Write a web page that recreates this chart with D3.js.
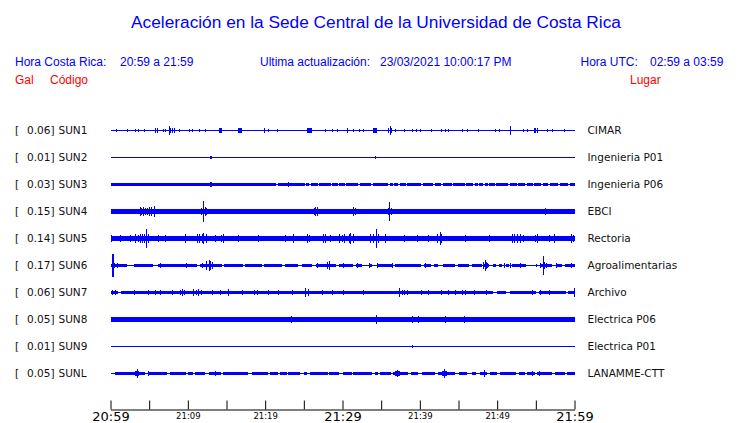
<!DOCTYPE html>
<html>
<head>
<meta charset="utf-8">
<script src="https://cdn.jsdelivr.net/npm/d3@7"></script>
<style>
  html, body { margin: 0; padding: 0; background: #ffffff; }
  svg { display: block; }
</style>
</head>
<body>
<svg id="chart" width="740" height="423"></svg>
<script>
// ---------------- DATA ----------------
const stations = ["SUN1","SUN2","SUN3","SUN4","SUN5","SUN6","SUN7","SUN8","SUN9","SUNL"];
const places = ["CIMAR","Ingenieria P01","Ingenieria P06","EBCI","Rectoria","Agroalimentarias","Archivo","Electrica P06","Electrica P01","LANAMME-CTT"];
const galScale = [0.06,0.01,0.03,0.15,0.14,0.17,0.06,0.05,0.01,0.05];
// half-amplitude of the continuous noise band (fraction of row half-height)
const bandLevel = [0,0,0.11,0.16,0.19,0.13,0.13,0.15,0,0.12];

// quiet intervals (minutes after 20:59) where only the thin trace shows
const gapsSUN3 = [[21.4,21.6],[25.1,25.3],[25.7,25.9],[26.8,27.0],[28.5,28.7],[29.4,29.6],[30.3,30.5],[32.0,32.2],[33.7,33.9],[35.9,36.1],[36.5,36.7],[37.2,37.4],[38.2,38.4],[40.2,40.4],[41.7,41.9],[42.8,43.0],[44.1,44.3],[45.8,46.0],[46.9,47.1],[47.5,47.7],[48.2,48.4],[48.8,49.0],[49.7,49.9],[51.4,51.6],[52.5,52.7],[53.6,53.8],[54.6,54.8],[55.7,55.9],[56.6,56.8],[57.9,58.1],[59.2,59.4]];
const gapsSUN6 = [[2.1,3.1],[5.5,6.1],[11.2,11.6],[14.4,14.7],[17.1,17.4],[19.6,19.9],[22.2,22.5],[24.3,24.8],[26.0,26.6],[29.1,29.5],[31.4,31.7],[32.5,33.4],[33.8,34.5],[36.4,36.8],[40.1,40.5],[41.4,41.8],[42.4,43.0],[44.6,44.9],[46.3,46.7],[48.0,48.3],[48.9,49.4],[49.8,50.2],[50.6,51.1],[51.5,51.9],[53.7,55.0],[55.2,55.6],[57.1,57.6],[58.4,58.8]];
const gapsSUN7 = [[1.0,1.4],[49.4,50.0],[51.1,51.6],[55.0,55.4],[58.9,59.2]];
const gapsSUNL = [[0,0.6],[4.5,4.9],[7.3,7.7],[9.8,10.0],[10.7,10.9],[12.2,12.7],[14.3,14.5],[17.8,18.3],[20.4,20.6],[21.7,21.9],[22.8,23.0],[24.5,25.0],[25.4,25.8],[28.1,28.3],[29.5,30.1],[31.2,31.4],[33.8,34.2],[34.6,34.8],[36.3,36.5],[38.5,38.9],[39.8,40.3],[42.0,42.4],[44.6,45.0],[46.1,46.7],[47.2,47.8],[48.7,49.1],[50.0,50.4],[52.4,52.8],[53.6,53.8],[54.9,55.1],[57.1,57.5],[58.8,59.0]];

// bursts: [minute after 20:59, half-amplitude, duration in minutes (optional)]
const burstsSUN1 = [[0.7,0.11],[2.1,0.11],[3.2,0.11],[3.6,0.11],[4.3,0.11],[5.8,0.15],[6.0,0.15],[6.8,0.11],[7.1,0.11],[7.5,0.30],[7.7,0.19],[8.0,0.15],[8.2,0.19],[8.9,0.11],[10.1,0.11,0.2],[10.6,0.11],[11.4,0.11],[12.2,0.11],[14.0,0.15,0.4],[16.5,0.15,0.5],[19.8,0.15,0.2],[20.4,0.11],[21.5,0.11],[22.8,0.07],[23.5,0.07],[24.1,0.07],[24.4,0.07],[25.4,0.15,0.6],[27.8,0.11],[28.6,0.11],[29.3,0.11],[30.6,0.15],[31.4,0.11],[32.1,0.11],[32.7,0.11],[34.0,0.15,0.5],[35.9,0.15],[36.1,0.37],[36.3,0.15],[36.8,0.11],[37.9,0.11],[39.0,0.11],[39.5,0.11],[40.0,0.11],[41.4,0.11],[42.7,0.11],[43.2,0.11],[43.7,0.11],[45.5,0.11],[46.1,0.11],[47.5,0.11],[49.7,0.11],[50.3,0.11],[51.6,0.30],[53.4,0.11],[53.9,0.11],[54.7,0.15],[54.9,0.19],[55.1,0.15],[56.5,0.11],[57.1,0.11],[58.6,0.11]];
const burstsSUN2 = [[12.9,0.11,0.2],[34.2,0.09]];
const burstsSUN3 = [[12.9,0.19,0.2],[23.0,0.15]];
const burstsSUN4 = [[0.8,0.22],[3.8,0.30],[4.0,0.26],[4.2,0.33],[4.4,0.26],[4.7,0.26],[5.0,0.37],[5.3,0.30],[5.6,0.41],[7.3,0.11],[9.1,0.11],[10.1,0.19],[11.7,0.26],[11.9,0.33],[12.0,0.79],[12.2,0.30],[12.4,0.26],[12.6,0.22],[15.2,0.15],[16.8,0.11],[18.0,0.19],[18.2,0.19],[18.8,0.19],[20.9,0.15],[21.1,0.15],[21.7,0.15],[21.9,0.15],[22.2,0.15],[23.0,0.22],[24.7,0.15],[26.3,0.26],[26.5,0.33],[26.7,0.30],[26.9,0.22],[28.2,0.19],[28.5,0.19],[28.8,0.19],[31.4,0.33],[31.6,0.26],[32.5,0.15],[33.0,0.15],[33.4,0.15],[34.2,0.15],[34.7,0.15],[35.7,0.22],[35.9,0.26],[36.05,0.71],[36.3,0.26],[36.6,0.22],[37.0,0.19],[40.1,0.19],[42.0,0.19],[43.2,0.22],[45.2,0.15],[45.6,0.15],[47.1,0.22],[47.8,0.19],[49.1,0.19],[52.3,0.11],[55.6,0.22],[56.2,0.26],[56.7,0.15]];
const burstsSUN5 = [[0.1,0.26],[0.3,0.22],[1.2,0.26],[2.5,0.26],[3.2,0.30],[3.5,0.26],[3.8,0.33],[4.1,0.30],[4.3,0.37],[4.55,0.70],[4.9,0.37],[6.2,0.26],[6.6,0.22],[7.0,0.26],[9.6,0.30],[11.2,0.30],[11.5,0.33],[11.8,0.37],[12.0,0.41],[12.3,0.30],[13.5,0.26],[13.9,0.22],[14.3,0.26],[14.5,0.30],[16.5,0.26],[19.1,0.26],[22.6,0.26],[23.6,0.30],[25.4,0.30],[25.7,0.26],[27.5,0.37],[27.8,0.33],[28.4,0.26],[28.7,0.22],[29.5,0.30],[29.9,0.26],[30.2,0.30],[30.8,0.37],[31.0,0.41],[31.3,0.33],[33.6,0.37],[33.9,0.33],[34.3,0.74],[34.6,0.30],[35.5,0.30],[37.9,0.26],[39.6,0.26],[41.1,0.26],[42.2,0.37],[42.6,0.50],[42.8,0.33],[45.9,0.26],[48.9,0.26],[51.9,0.30],[52.2,0.33],[52.6,0.37],[52.9,0.30],[53.3,0.26],[54.9,0.26],[55.2,0.30],[56.7,0.26],[57.3,0.37],[59.5,0.30],[59.8,0.26]];
const burstsSUN6 = [[0.2,0.87,0.25],[0.5,0.19],[0.9,0.15],[6.4,0.19],[9.7,0.19],[11.8,0.19],[12.4,0.30],[12.7,0.44],[12.9,0.33],[13.1,0.26],[26.7,0.19],[28.0,0.26],[28.2,0.33],[30.0,0.19],[31.9,0.19],[33.4,0.19],[34.5,0.19],[36.4,0.19],[40.7,0.19],[48.2,0.26],[48.4,0.44],[48.6,0.26],[48.7,0.19],[50.9,0.19],[51.7,0.19],[53.0,0.19],[55.6,0.19],[55.9,0.67],[56.1,0.26],[56.3,0.19],[57.6,0.19],[59.5,0.19]];
const burstsSUN7 = [[0.15,0.22],[0.6,0.22],[3.0,0.22],[4.9,0.22],[5.8,0.22],[6.4,0.22],[7.9,0.22],[9.0,0.22],[9.2,0.26],[9.5,0.22],[10.7,0.26],[11.0,0.22],[11.3,0.26],[11.7,0.22],[13.1,0.22],[14.2,0.22],[15.2,0.26],[17.0,0.22],[18.5,0.22],[18.9,0.22],[20.4,0.22],[21.7,0.22],[23.5,0.22],[25.2,0.30],[25.5,0.26],[27.3,0.22],[28.6,0.22],[30.1,0.22],[32.7,0.22],[37.3,0.37],[37.7,0.22],[38.0,0.22],[38.4,0.22],[40.1,0.22],[41.1,0.22],[42.7,0.22],[43.7,0.22],[44.6,0.22],[45.5,0.22],[45.8,0.22],[47.0,0.22],[48.5,0.22],[54.5,0.22],[55.6,0.22],[56.7,0.22],[59.9,0.30]];
const burstsSUN8 = [[0.1,0.19],[3.2,0.19],[5.3,0.22],[7.9,0.19],[9.1,0.19],[10.3,0.19],[10.9,0.19],[12.4,0.19],[20.9,0.19],[22.2,0.22],[22.6,0.19],[23.0,0.22],[23.3,0.26],[23.7,0.19],[24.0,0.22],[25.2,0.19],[26.7,0.19],[27.8,0.19],[29.7,0.19],[31.2,0.19],[34.3,0.30],[39.0,0.26],[39.4,0.22],[39.8,0.26],[40.2,0.22],[41.4,0.19],[43.3,0.26],[43.6,0.22],[45.7,0.26],[46.1,0.22],[47.2,0.19],[49.3,0.22],[52.6,0.19],[55.8,0.19],[59.9,0.19]];
const burstsSUN9 = [[12.9,0.07],[13.7,0.07],[23.2,0.07],[23.8,0.07],[34.2,0.07],[39.0,0.09]];
const burstsSUNL = [[3.2,0.15,0.5],[3.4,0.30],[4.9,0.15],[13.5,0.15],[13.8,0.11,0.4],[36.8,0.15,0.6],[37.0,0.26],[42.9,0.19,0.6],[43.1,0.30],[48.3,0.26],[54.5,0.15],[55.4,0.15]];

const gapsByStation = [[],[],gapsSUN3,[],[],gapsSUN6,gapsSUN7,[],[],gapsSUNL];
const burstsByStation = [burstsSUN1,burstsSUN2,burstsSUN3,burstsSUN4,burstsSUN5,burstsSUN6,burstsSUN7,burstsSUN8,burstsSUN9,burstsSUNL];

const startTime = new Date(2021, 2, 23, 20, 59, 0);
const endTime = new Date(2021, 2, 23, 21, 59, 0);
const tickStepMinutes = 5;
const labelStepMinutes = 10;
const majorLabelMinutes = [0, 30, 60];

// ---------------- DRAWING ----------------
const svg = d3.select("#chart");
const BLUE = "#0000ff", RED = "#ff0000";
const headFont = "'Liberation Sans', Arial, Helvetica, sans-serif";
const labFont = "'DejaVu Sans', Verdana, sans-serif";

svg.append("text").attr("x", 376).attr("y", 28).attr("text-anchor", "middle")
  .attr("font-family", headFont).attr("font-size", 17.3).attr("fill", BLUE)
  .text("Aceleración en la Sede Central de la Universidad de Costa Rica");

const header = [
  {x: 15, t: "Hora Costa Rica:"}, {x: 120, t: "20:59 a 21:59"},
  {x: 260, t: "Ultima actualización:"}, {x: 380, t: "23/03/2021 10:00:17 PM"},
  {x: 580.5, t: "Hora UTC:"}, {x: 650, t: "02:59 a 03:59"}
];
svg.selectAll("text.hdr").data(header).enter().append("text").attr("class","hdr")
  .attr("x", d => d.x).attr("y", 65.5).attr("font-family", headFont).attr("font-size", 12)
  .attr("fill", BLUE).text(d => d.t);

const redHdr = [{x: 15, t: "Gal"}, {x: 50, t: "Código"}, {x: 630, t: "Lugar"}];
svg.selectAll("text.rhdr").data(redHdr).enter().append("text").attr("class","rhdr")
  .attr("x", d => d.x).attr("y", 84).attr("font-family", headFont).attr("font-size", 12)
  .attr("fill", RED).text(d => d.t);

const x = d3.scaleTime().domain([startTime, endTime]).range([110.5, 574.5]);
const minToDate = m => new Date(startTime.getTime() + m * 60000);
const row = d3.scalePoint().domain(stations).range([130, 373]);
const amp = d3.scaleLinear().domain([-1, 1]).range([13.5, -13.5]);

stations.forEach((code, i) => {
  const cy = row(code);
  const g = svg.append("g").attr("transform", `translate(0,${cy})`).attr("shape-rendering", "crispEdges");
  // thin trace
  g.append("line").attr("x1", x(startTime)).attr("x2", x(endTime)).attr("y1", 0.5).attr("y2", 0.5)
    .attr("stroke", BLUE).attr("stroke-width", 1);
  // band segments
  const lvl = bandLevel[i];
  if (lvl > 0) {
    const gaps = gapsByStation[i].slice().sort((a, b) => a[0] - b[0]);
    const segs = [];
    let s = 0;
    gaps.forEach(gp => { if (gp[0] > s) segs.push([s, gp[0]]); s = Math.max(s, gp[1]); });
    if (s < 60) segs.push([s, 60]);
    g.selectAll("rect.band").data(segs).enter().append("rect").attr("class", "band")
      .attr("x", d => x(minToDate(d[0])))
      .attr("width", d => Math.max(1, x(minToDate(d[1])) - x(minToDate(d[0]))))
      .attr("y", amp(lvl) + 0.5).attr("height", amp(-lvl) - amp(lvl))
      .attr("fill", BLUE);
  }
  // bursts
  g.selectAll("rect.burst").data(burstsByStation[i]).enter().append("rect").attr("class", "burst")
    .attr("x", d => x(minToDate(d[0])))
    .attr("width", d => Math.max(1, x(minToDate(d[0] + (d[2] || 0.1))) - x(minToDate(d[0]))))
    .attr("y", d => amp(d[1]) + 0.5)
    .attr("height", d => amp(-d[1]) - amp(d[1]))
    .attr("fill", BLUE);

  // labels
  svg.append("text").attr("x", 15).attr("y", cy + 4).attr("font-family", labFont).attr("font-size", 10.5)
    .attr("fill", "#111").text("[");
  svg.append("text").attr("x", 54.5).attr("y", cy + 4).attr("text-anchor", "end").attr("font-family", labFont)
    .attr("font-size", 10.5).attr("fill", "#111").text(galScale[i].toFixed(2) + "]");
  svg.append("text").attr("x", 58.5).attr("y", cy + 4).attr("font-family", labFont).attr("font-size", 10.5)
    .attr("fill", "#111").text(code);
  svg.append("text").attr("x", 587.5).attr("y", cy + 4).attr("font-family", labFont).attr("font-size", 10.5)
    .attr("fill", "#111").text(places[i]);
});

// time axis
const tickVals = d3.range(0, 61, tickStepMinutes).map(minToDate);
const fmt = d3.timeFormat("%H:%M");
const axis = d3.axisBottom(x).tickValues(tickVals).tickSize(-9).tickSizeOuter(0).tickPadding(3)
  .tickFormat(d => {
    const m = Math.round((d - startTime) / 60000);
    return m % labelStepMinutes === 0 ? fmt(d) : "";
  });
const ax = svg.append("g").attr("transform", "translate(0,409.5)").call(axis);
ax.select(".domain").attr("stroke", "#000");
ax.selectAll(".tick line").attr("stroke", "#000");
ax.selectAll(".tick text").attr("fill", "#000").attr("font-family", labFont)
  .attr("font-size", d => majorLabelMinutes.includes(Math.round((d - startTime) / 60000)) ? 13 : 8.5)
  .attr("dy", null)
  .attr("y", d => majorLabelMinutes.includes(Math.round((d - startTime) / 60000)) ? 11 : 9);
</script>
</body>
</html>
